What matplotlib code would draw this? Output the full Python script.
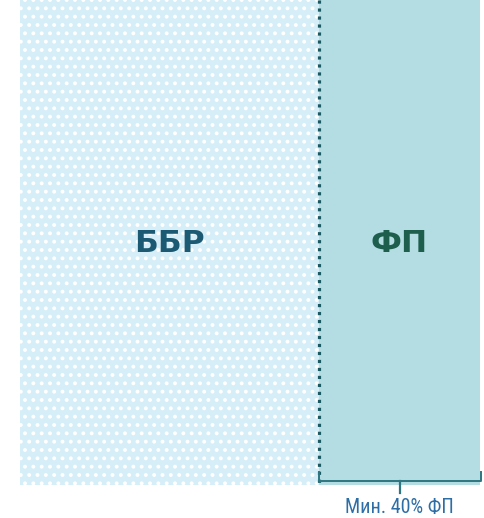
import matplotlib.pyplot as plt

# доли
labels = ["ББР", "ФП"]
shares = [65, 35]
note = "Мин. 40% ФП"

W, H = 485, 518
plt.rcParams['hatch.linewidth'] = 1.6
fig = plt.figure(figsize=(W / 100, H / 100), dpi=100)
ax = fig.add_axes([20 / W, (H - 485) / H, 460 / W, 485 / H])

lefts = [0, shares[0]]
ax.barh(0, shares[0], left=lefts[0], height=1, color='#d6eef8',
        edgecolor='white', hatch='..', linewidth=0)
ax.barh(0, shares[1], left=lefts[1], height=1, color='#b3dde3',
        linewidth=0)

ax.set_xlim(0, 100)
ax.set_ylim(-0.5, 0.5)
ax.axis('off')


def py(y):
    # пиксели сверху -> данные
    return 0.5 - y / 485


# граница
ax.plot([shares[0], shares[0]], [py(0), py(485)], color='#1b5a63',
        linestyle=(0, (1, 1.5)), linewidth=2.3, clip_on=False)

ax.text(lefts[0] + shares[0] / 2, py(244), labels[0], ha='center', va='center',
        fontsize=22.5, fontweight='bold', color='#1c5a73', family='DejaVu Sans')
ax.text(lefts[1] + shares[1] / 2, py(244), labels[1], ha='center', va='center',
        fontsize=22.5, fontweight='bold', color='#1e5e4c', family='DejaVu Sans')

# скобка
bc = '#2e7680'
x1, x2 = shares[0] - 0.1, 100.2
xm = (x1 + x2) / 2
ax.plot([x1, x1, x2, x2], [py(472), py(481), py(481), py(472)],
        color=bc, linewidth=1.4, clip_on=False)
ax.plot([xm, xm], [py(481), py(493)], color=bc, linewidth=1.6, clip_on=False)
ax.text(xm, py(507), note, ha='center', va='center', fontsize=14.5,
        color='#2e6ea6', family=['Roboto Condensed', 'DejaVu Sans'])

fig.savefig('out.png', dpi=100)
